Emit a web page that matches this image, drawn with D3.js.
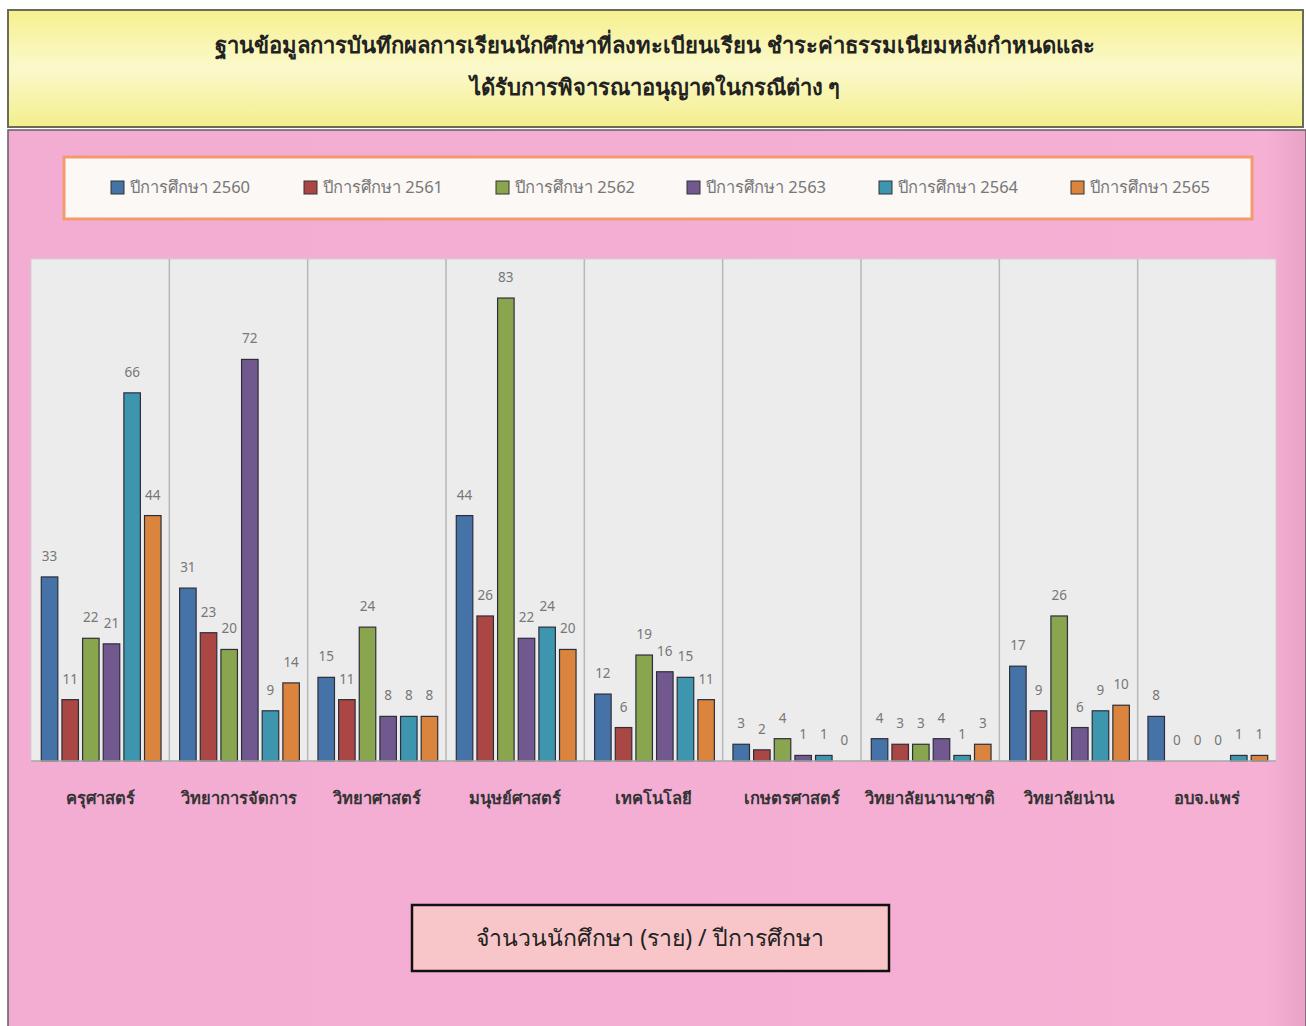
<!DOCTYPE html>
<html><head><meta charset="utf-8">
<script src="https://cdn.jsdelivr.net/npm/d3@7/dist/d3.min.js"></script>
<style>
body{margin:0;background:#fff;}
svg{display:block;}
</style></head>
<body>
<svg id="chart" width="1306" height="1026"></svg>
<script>
const categories = ["ครุศาสตร์","วิทยาการจัดการ","วิทยาศาสตร์","มนุษย์ศาสตร์","เทคโนโลยี","เกษตรศาสตร์","วิทยาลัยนานาชาติ","วิทยาลัยน่าน","อบจ.แพร่"];
const seriesNames = ["ปีการศึกษา 2560","ปีการศึกษา 2561","ปีการศึกษา 2562","ปีการศึกษา 2563","ปีการศึกษา 2564","ปีการศึกษา 2565"];
const y2560 = [33,31,15,44,12,3,4,17,8];
const y2561 = [11,23,11,26,6,2,3,9,0];
const y2562 = [22,20,24,83,19,4,3,26,0];
const y2563 = [21,72,8,22,16,1,4,6,0];
const y2564 = [66,9,8,24,15,1,1,9,1];
const y2565 = [44,14,8,20,11,0,3,10,1];
const seriesValues = [y2560,y2561,y2562,y2563,y2564,y2565];
const colors = ["#4572A7","#AA4643","#89A54E","#71588F","#3D96AE","#DB843D"];
const titleLines = ["ฐานข้อมูลการบันทึกผลการเรียนนักศึกษาที่ลงทะเบียนเรียน ชำระค่าธรรมเนียมหลังกำหนดและ","ได้รับการพิจารณาอนุญาตในกรณีต่าง ๆ"];
const xTitle = "จำนวนนักศึกษา (ราย) / ปีการศึกษา";

const svg = d3.select("#chart");
const defs = svg.append("defs");
const yg = defs.append("linearGradient").attr("id","yel").attr("x1",0).attr("y1",0).attr("x2",0).attr("y2",1);
yg.append("stop").attr("offset","0%").attr("stop-color","#f6f08e");
yg.append("stop").attr("offset","50%").attr("stop-color","#fbf9cc");
yg.append("stop").attr("offset","100%").attr("stop-color","#f3ee8c");
const pg = defs.append("linearGradient").attr("id","pink").attr("x1",0).attr("y1",0).attr("x2",1).attr("y2",0);
pg.append("stop").attr("offset","0%").attr("stop-color","#f3acd2");
pg.append("stop").attr("offset","97%").attr("stop-color","#f5b0d4");
pg.append("stop").attr("offset","100%").attr("stop-color","#e7a2c6");

const font = "'Noto Sans', 'DejaVu Sans', sans-serif";

// title box
svg.append("rect").attr("x",8).attr("y",10).attr("width",1295).attr("height",117)
  .attr("fill","url(#yel)").attr("stroke","#6b6b5a").attr("stroke-width",2);
titleLines.forEach((t,i)=>{
  svg.append("text").attr("x",655).attr("y",53+i*42).attr("text-anchor","middle")
    .attr("font-family",font).attr("font-weight","bold").attr("font-size",22)
    .attr("fill","#222").text(t);
});

// pink panel
svg.append("rect").attr("x",8).attr("y",130).attr("width",1298).attr("height",900)
  .attr("fill","url(#pink)").attr("stroke","#6a5a64").attr("stroke-width",1.5);

// legend
svg.append("rect").attr("x",64).attr("y",157).attr("width",1188).attr("height",62)
  .attr("fill","#fbf8f6").attr("stroke","#f39a6e").attr("stroke-width",3);
const legX = [111,304,496,687,879,1071];
seriesNames.forEach((n,i)=>{
  const g = svg.append("g").attr("transform",`translate(${legX[i]},181)`);
  g.append("rect").attr("width",13).attr("height",13).attr("fill",colors[i]).attr("stroke","#333").attr("stroke-width",1);
  g.append("text").attr("x",19).attr("y",12).attr("font-family",font).attr("font-size",16.5)
    .attr("fill","#777").text(n);
});

// plot
const pLeft=31, pRight=1276, pTop=259, pBottom=761;
const x0 = d3.scaleBand().domain(categories).range([pLeft,pRight]).paddingInner(0).paddingOuter(0);
const x1 = d3.scaleBand().domain(d3.range(seriesNames.length)).range([0,x0.bandwidth()]).paddingInner(0.2).paddingOuter(0.45);
const y = d3.scaleLinear().domain([0,90]).range([pBottom,pTop]);

svg.append("rect").attr("x",pLeft).attr("y",pTop).attr("width",pRight-pLeft).attr("height",pBottom-pTop)
  .attr("fill","#ececec").attr("stroke","#d0d0d0").attr("stroke-width",1);
categories.slice(1).forEach(c=>{
  svg.append("line").attr("x1",x0(c)).attr("x2",x0(c)).attr("y1",pTop).attr("y2",pBottom)
    .attr("stroke","#b8b8b8").attr("stroke-width",1.5);
});

const groups = svg.selectAll("g.cat").data(categories).join("g").attr("class","cat")
  .attr("transform",c=>`translate(${x0(c)},0)`);
groups.each(function(c,ci){
  const g = d3.select(this);
  seriesValues.forEach((vals,si)=>{
    const v = vals[ci];
    if(v>0){
      g.append("rect").attr("x",x1(si)+1).attr("y",y(v)).attr("width",x1.bandwidth())
        .attr("height",pBottom-y(v)).attr("fill",colors[si]).attr("stroke","#2e2e3a").attr("stroke-width",1.2);
    }
    g.append("text").attr("x",x1(si)+1+x1.bandwidth()/2).attr("y",y(v)-16).attr("text-anchor","middle")
      .attr("font-family",font).attr("font-size",13.5).attr("fill","#777").text(v);
  });
});

svg.append("line").attr("x1",pLeft).attr("x2",pRight).attr("y1",pBottom).attr("y2",pBottom)
  .attr("stroke","#a8a8a8").attr("stroke-width",1.5);

// category labels
const xAxis = d3.axisBottom(x0).tickSize(0).tickPadding(31);
const ax = svg.append("g").attr("transform",`translate(0,${pBottom})`).call(xAxis);
ax.select(".domain").remove();
ax.selectAll("text").attr("font-family",font).attr("font-weight","bold").attr("font-size",16.5).attr("fill","#333");

// x title box
svg.append("rect").attr("x",412).attr("y",905).attr("width",477).attr("height",66)
  .attr("fill","#f8c6c8").attr("stroke","#111").attr("stroke-width",2.5);
svg.append("text").attr("x",650).attr("y",946).attr("text-anchor","middle")
  .attr("font-family",font).attr("font-size",23).attr("fill","#222").text(xTitle);
</script>
</body></html>
